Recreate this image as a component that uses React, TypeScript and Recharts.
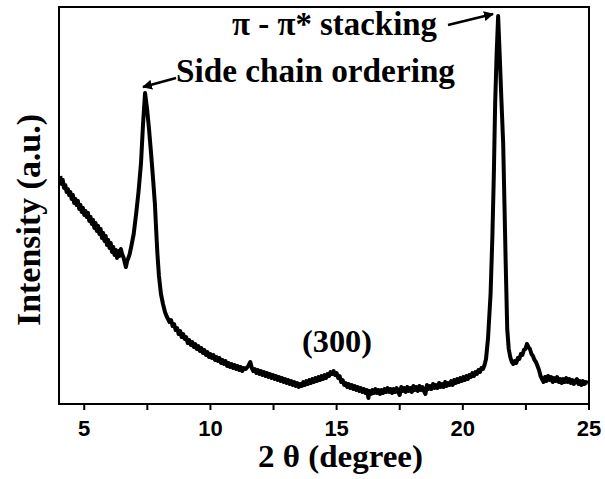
import React from 'react';
import { LineChart, Line, XAxis, YAxis, ReferenceArea } from 'recharts';

// 2θ positions (degree) and intensity (a.u.)
const twoTheta = [
  4.05, 4.1, 4.15, 4.2, 4.25, 4.3, 4.35, 4.4, 4.45, 4.5, 4.55, 4.6, 4.65, 4.7, 4.75, 4.8, 4.85, 4.9, 4.95,
  5.0, 5.05, 5.1, 5.15, 5.2, 5.25, 5.3, 5.35, 5.4, 5.45, 5.5, 5.55, 5.6, 5.65, 5.7, 5.75, 5.8, 5.85, 5.9, 5.95,
  6.0, 6.05, 6.1, 6.15, 6.2, 6.25, 6.3, 6.35, 6.4, 6.45, 6.5, 6.55, 6.6, 6.65, 6.7, 6.75, 6.8, 6.86,
  6.96, 7.06, 7.15, 7.25, 7.33, 7.41, 7.49, 7.57, 7.65, 7.73, 7.8, 7.85, 7.9, 7.96, 8.04, 8.12,
  8.2, 8.26, 8.32, 8.38, 8.44, 8.5, 8.56, 8.62, 8.68, 8.74, 8.8, 8.86, 8.92, 8.98, 9.04, 9.1, 9.16, 9.22,
  9.28, 9.34, 9.4, 9.46, 9.52, 9.58, 9.64, 9.7, 9.76, 9.82, 9.88, 9.94, 10.0, 10.06, 10.12, 10.18, 10.24,
  10.3, 10.36, 10.42, 10.48, 10.54, 10.6, 10.66, 10.72, 10.78, 10.84, 10.9, 10.96, 11.02, 11.08, 11.14,
  11.2, 11.26, 11.32, 11.4, 11.5, 11.58, 11.64, 11.7, 11.76, 11.82, 11.88, 11.94, 12.0, 12.06, 12.12,
  12.18, 12.24, 12.3, 12.36, 12.42, 12.48, 12.54, 12.6, 12.66, 12.72, 12.78, 12.84, 12.9, 12.96, 13.02,
  13.08, 13.14, 13.2, 13.26, 13.32, 13.38, 13.44, 13.5, 13.56, 13.62, 13.68, 13.74, 13.8, 13.86, 13.92,
  13.98, 14.04, 14.1, 14.16, 14.22, 14.28, 14.34, 14.4, 14.46, 14.52, 14.58, 14.64, 14.7, 14.76, 14.82,
  14.88, 14.94, 15.0, 15.06, 15.12, 15.18, 15.24, 15.3, 15.36, 15.42, 15.48, 15.54, 15.6, 15.66, 15.72,
  15.78, 15.84, 15.9, 15.96, 16.02, 16.08, 16.14, 16.2, 16.26, 16.3, 16.36, 16.42, 16.48, 16.54, 16.6,
  16.66, 16.72, 16.78, 16.84, 16.9, 16.96, 17.02, 17.08, 17.14, 17.2, 17.26, 17.32, 17.38, 17.44, 17.5,
  17.56, 17.62, 17.68, 17.74, 17.8, 17.86, 17.92, 17.98, 18.04, 18.1, 18.16, 18.22, 18.28, 18.34, 18.4,
  18.46, 18.52, 18.58, 18.64, 18.7, 18.76, 18.82, 18.88, 18.94, 19.0, 19.06, 19.12, 19.18, 19.24, 19.3,
  19.36, 19.42, 19.48, 19.54, 19.6, 19.66, 19.72, 19.78, 19.84, 19.9, 19.96, 20.02, 20.08, 20.14, 20.2,
  20.26, 20.32, 20.38, 20.44, 20.5, 20.56, 20.62, 20.68, 20.74, 20.8, 20.86, 20.92, 21.0, 21.1, 21.17,
  21.23, 21.28, 21.34, 21.4, 21.46, 21.52, 21.6, 21.65, 21.7, 21.76, 21.82, 21.88, 21.94, 22.0, 22.06,
  22.12, 22.18, 22.24, 22.3, 22.36, 22.42, 22.48, 22.54, 22.6, 22.66, 22.72, 22.78, 22.84, 22.9, 22.96,
  23.02, 23.08, 23.14, 23.2, 23.26, 23.32, 23.38, 23.44, 23.5, 23.56, 23.62, 23.68, 23.74, 23.8, 23.86,
  23.92, 23.98, 24.04, 24.1, 24.16, 24.22, 24.28, 24.34, 24.4, 24.46, 24.52, 24.58, 24.64, 24.7, 24.76,
  24.82, 24.88, 24.96,
];
const intensity = [
  228, 220, 224, 216, 219, 212, 215, 209, 212, 205, 209, 201, 205, 199, 203, 195, 199, 192, 196,
  189, 193, 187, 191, 183, 187, 180, 184, 176, 181, 173, 178, 170, 175, 166, 171, 163, 168, 159, 164,
  156, 161, 152, 157, 149, 154, 146, 153, 148, 155, 150, 147, 142, 137, 143, 146, 150, 157,
  170, 191, 212, 241, 280, 311, 295, 274, 250, 224, 200, 174, 150, 128, 110, 100,
  92, 88, 85, 82, 84, 78, 80, 74, 76, 70, 73, 67, 70, 65, 67, 61, 64, 59,
  62, 57, 60, 55, 58, 53, 56, 51, 54, 49, 52, 47, 50, 46, 49, 44, 47,
  43, 46, 41, 44, 40, 43, 38, 41, 37, 40, 36, 39, 35, 38, 34,
  37, 33, 36, 35, 38, 42, 36, 33, 35, 31, 34, 30, 33, 29, 32,
  28, 31, 27, 30, 26, 29, 25, 28, 24, 27, 23, 26, 22, 25, 21,
  24, 20, 23, 19, 22, 18, 21, 17, 20, 18, 22, 19, 23, 20, 24,
  21, 25, 22, 26, 23, 27, 24, 28, 25, 29, 26, 30, 28, 32, 30,
  33, 29, 31, 26, 28, 22, 24, 19, 21, 17, 20, 16, 19, 15, 18,
  14, 17, 13, 16, 12, 15, 11, 14, 6, 13, 10, 14, 11, 15, 11,
  14, 10, 14, 11, 15, 12, 16, 12, 15, 11, 15, 12, 16, 12, 9,
  17, 13, 16, 12, 17, 13, 16, 12, 18, 14, 17, 13, 18, 14, 17,
  13, 10, 19, 15, 18, 15, 20, 16, 19, 16, 21, 17, 20, 17, 22,
  18, 21, 19, 23, 19, 24, 21, 25, 22, 26, 23, 27, 24, 28, 25,
  29, 27, 31, 28, 32, 30, 34, 32, 36, 35, 39, 45, 66, 110, 166,
  230, 299, 350, 388, 350, 310, 260, 200, 140, 75, 55, 47, 42, 40, 43,
  41, 46, 45, 50, 49, 54, 55, 60, 57, 55, 50, 48, 44, 42, 38,
  34, 28, 25, 22, 27, 23, 28, 24, 27, 22, 26, 23, 27, 22, 25,
  21, 25, 22, 26, 22, 25, 21, 24, 20, 23, 25, 20, 23, 19, 23,
  20, 22, 21,
];
const xTicks = [5, 7.5, 10, 12.5, 15, 17.5, 20, 22.5, 25];

const data = twoTheta.map((x, i) => ({ x, y: intensity[i] }));

const serif = "'Liberation Serif', 'Times New Roman', Times, serif";
const sans = "'Liberation Sans', Arial, sans-serif";

const App = () => {
  return (
    <div style={{ position: 'absolute', left: 0, top: 0, width: 605, height: 479, background: '#fff' }}>
      <LineChart width={605} height={479} data={data} margin={{ top: 7, right: 16, left: 59, bottom: 15 }}>
        <XAxis
          dataKey="x"
          type="number"
          domain={[4, 25]}
          ticks={xTicks}
          height={60}
          tickFormatter={(v: number) => (v % 5 === 0 ? String(v) : '')}
          axisLine={{ stroke: '#000', strokeWidth: 2 }}
          tickLine={{ stroke: '#000', strokeWidth: 2 }}
          tickSize={6}
          tickMargin={10}
          tick={{ fill: '#000', fontSize: 22, fontWeight: 'bold', fontFamily: sans }}
        />
        <YAxis hide type="number" domain={[0, 397]} />
        <ReferenceArea x1={4} x2={25} y1={0} y2={397} fill="none" stroke="#000" strokeWidth={2} />
        <Line
          dataKey="y"
          type="linear"
          stroke="#000"
          strokeWidth={4}
          strokeLinejoin="round"
          dot={false}
          isAnimationActive={false}
        />
      </LineChart>
      <svg
        width={605}
        height={479}
        style={{ position: 'absolute', left: 0, top: 0, pointerEvents: 'none' }}
      >
        <defs>
          <marker id="head" viewBox="0 0 10 10" refX="9" refY="5" markerWidth="4" markerHeight="4" orient="auto">
            <path d="M0,0 L10,5 L0,10 z" fill="#000" />
          </marker>
        </defs>
        <g style={{ fontFamily: serif, fontWeight: 'bold' }} fill="#000">
          <text x={232} y={35} fontSize={33} textLength={205} lengthAdjust="spacingAndGlyphs">π - π* stacking</text>
          <text x={176} y={82} fontSize={33} textLength={279} lengthAdjust="spacingAndGlyphs">Side chain ordering</text>
          <text x={302} y={352} fontSize={32} textLength={70} lengthAdjust="spacingAndGlyphs">(300)</text>
          <text x={258} y={467} fontSize={31} textLength={165} lengthAdjust="spacingAndGlyphs">2 θ (degree)</text>
          <text
            x={0}
            y={0}
            fontSize={33}
            textLength={212}
            lengthAdjust="spacingAndGlyphs"
            transform="translate(40,326) rotate(-90)"
          >
            Intensity (a.u.)
          </text>
        </g>
        <line x1={448} y1={25} x2={493} y2={14} stroke="#000" strokeWidth={2.5} markerEnd="url(#head)" />
        <line x1={176} y1={78} x2={143} y2={87} stroke="#000" strokeWidth={2.5} markerEnd="url(#head)" />
      </svg>
    </div>
  );
};

export default App;
